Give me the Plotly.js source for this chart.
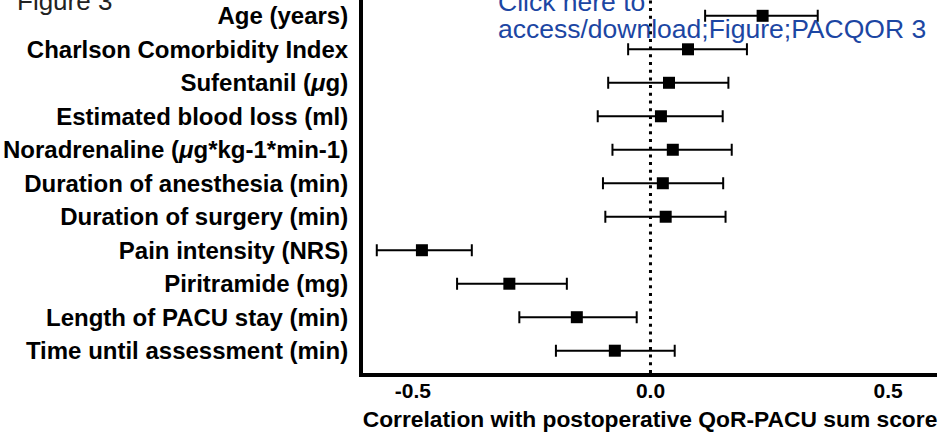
<!DOCTYPE html>
<html>
<head>
<meta charset="utf-8">
<script src="https://cdn.plot.ly/plotly-3.0.1.min.js"></script>
<style>
  html, body { margin: 0; padding: 0; background: #fff; }
  #chart { width: 942px; height: 435px; }
</style>
</head>
<body>
<div id="chart"></div>
<script>
// Variables (top to bottom as shown in the figure)
const variables = [
  "Age (years)",
  "Charlson Comorbidity Index",
  "Sufentanil (<i>\u03bc</i>g)",
  "Estimated blood loss (ml)",
  "Noradrenaline (<i>\u03bc</i>g*kg-1*min-1)",
  "Duration of anesthesia (min)",
  "Duration of surgery (min)",
  "Pain intensity (NRS)",
  "Piritramide (mg)",
  "Length of PACU stay (min)",
  "Time until assessment (min)"
];
// Correlation estimates and 95% CI bounds
const estimate = [0.236, 0.079, 0.039, 0.022, 0.047, 0.026, 0.032, -0.481, -0.297, -0.155, -0.075];
const lower    = [0.115, -0.047, -0.089, -0.111, -0.080, -0.100, -0.095, -0.576, -0.407, -0.276, -0.199];
const upper    = [0.352, 0.203, 0.164, 0.152, 0.171, 0.153, 0.158, -0.376, -0.176, -0.029, 0.051];
const xTickVals = [-0.5, 0.0, 0.5];
const xTickText = ["-0.5", "0.0", "0.5"];
const referenceValue = 0;

const plus = upper.map((u, i) => u - estimate[i]);
const minus = estimate.map((e, i) => e - lower[i]);

const FONT = "Liberation Sans, Arial, Helvetica, sans-serif";

// paper-coordinate helpers for the plot box (l=363, w=574, t=0, h=373)
const PL = 363, PW = 574, PT = 0, PH = 373;
const px2x = p => (p - PL) / PW;
const py2y = p => (PT + PH - p) / PH;

const trace = {
  type: "scatter",
  mode: "markers",
  x: estimate,
  y: variables,
  marker: { symbol: "square", size: 12, color: "#000" },
  error_x: {
    type: "data", symmetric: false,
    array: plus, arrayminus: minus,
    color: "#000", thickness: 2, width: 6
  },
  cliponaxis: false,
  hoverinfo: "x+y"
};

const layout = {
  width: 942, height: 435,
  margin: { l: PL, r: 942 - PL - PW, t: PT, b: 435 - PT - PH, pad: 0 },
  paper_bgcolor: "#fff", plot_bgcolor: "#fff",
  showlegend: false,
  font: { family: FONT, color: "#000" },
  xaxis: {
    range: [-0.605, 0.603],
    tickvals: xTickVals, ticktext: xTickText,
    ticks: "", ticklen: 0, showgrid: false, zeroline: false,
    showline: true, linecolor: "#000", linewidth: 4,
    tickfont: { family: FONT, size: 21, color: "#000", weight: "bold" },
    ticklabelstandoff: -4,
    title: {
      text: "Correlation with postoperative QoR-PACU sum score",
      font: { family: FONT, size: 22.8, color: "#000", weight: "bold" },
      standoff: 11
    },
    fixedrange: true
  },
  yaxis: {
    type: "category",
    categoryorder: "array",
    categoryarray: variables.slice().reverse(),
    range: [-0.666, 10.472],
    ticks: "", ticklen: 0, showgrid: false, zeroline: false,
    showline: true, linecolor: "#000", linewidth: 4,
    tickfont: { family: FONT, size: 24, color: "#000", weight: "bold" },
    ticklabelstandoff: 6,
    fixedrange: true
  },
  shapes: [{
    type: "line", xref: "x", yref: "paper",
    x0: referenceValue, x1: referenceValue, y0: 0, y1: 1,
    line: { color: "#000", width: 3, dash: "3px,4.7px" },
    layer: "below"
  }],
  annotations: [
    {
      text: "Figure 3", xref: "paper", yref: "paper",
      x: px2x(15), y: py2y(1), xanchor: "left", yanchor: "middle",
      showarrow: false,
      font: { family: FONT, size: 26, color: "#222" }
    },
    {
      text: "Click here to", xref: "paper", yref: "paper",
      x: px2x(495.5), y: py2y(2), xanchor: "left", yanchor: "middle",
      showarrow: false,
      font: { family: FONT, size: 26.5, color: "#1c46a3" }
    },
    {
      text: "access/download;Figure;PACQOR 3", xref: "paper", yref: "paper",
      x: px2x(495.5), y: py2y(29), xanchor: "left", yanchor: "middle",
      showarrow: false,
      font: { family: FONT, size: 26.5, color: "#1c46a3" }
    }
  ]
};

Plotly.newPlot("chart", [trace], layout, { staticPlot: true, displayModeBar: false });
</script>
</body>
</html>
